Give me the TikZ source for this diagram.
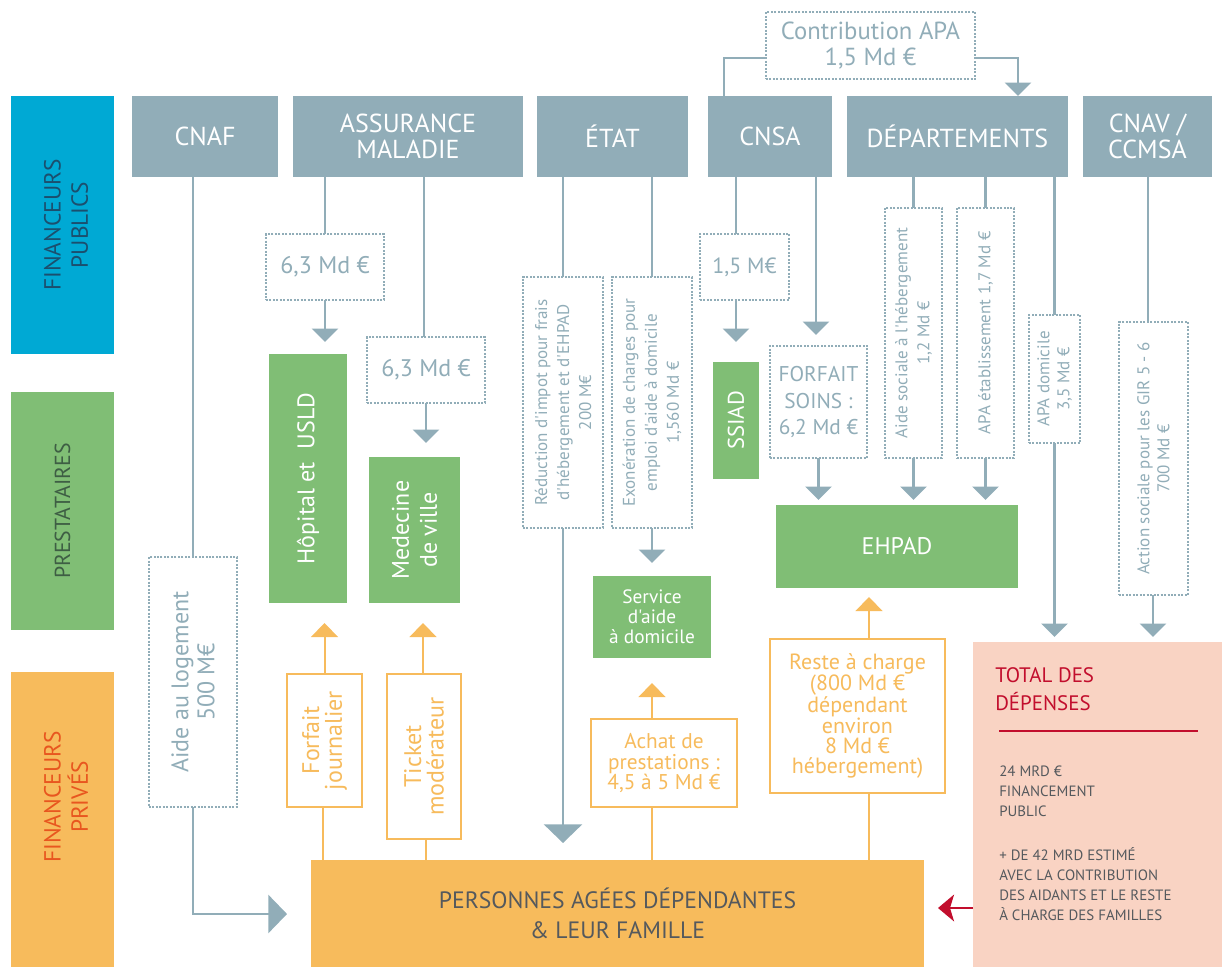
\documentclass[tikz,border=0pt]{standalone}
\usepackage{fontspec}
\setmainfont{PT Sans}[Ligatures=TeXOff]
\usetikzlibrary{arrows.meta,fit}
\definecolor{gb}{HTML}{91ADB8}
\definecolor{bl}{HTML}{00A9D4}
\definecolor{navy}{HTML}{1B4F6E}
\definecolor{gr}{HTML}{80BE75}
\definecolor{dkgr}{HTML}{3E5E44}
\definecolor{orf}{HTML}{F7BB5C}
\definecolor{orred}{HTML}{E8561F}
\definecolor{pk}{HTML}{F9D3C3}
\definecolor{rd}{HTML}{C20E2D}
\definecolor{dk}{HTML}{55595D}
\newcommand\fsz[2]{\fontsize{#1}{#2}\selectfont}
% box: style, name, corner1, corner2, text style, text
\newcommand\bx[6]{\node[#1, fit={(#3)(#4)}] (#2) {};\node[#5] (#2t) at (#2.center) {#6};}
\tikzset{
 box/.style={inner sep=0pt, outer sep=0pt},
 txt/.style={inner sep=0pt, align=center},
 gbox/.style={box, fill=gb},
 gtxt/.style={txt, text=white, font=\fsz{19.5pt}{20pt}},
 dbox/.style={box, draw=gb, line width=1.5pt, dash pattern=on 1.5pt off 1.1pt, fill=white},
 dtxt/.style={txt, text=gb},
 grn/.style={box, fill=gr},
 wtxt/.style={txt, text=white},
 obox/.style={box, draw=orf, line width=1.5pt, fill=white},
 otxt/.style={txt, text=orf},
 rot/.style={rotate=90},
 conn/.style={draw=gb, line width=2pt},
 arr/.style={conn, -{Triangle[width=19.5pt,length=10pt]}},
 bigarr/.style={conn, -{Triangle[width=28.5pt,length=14pt]}},
 oconn/.style={draw=orf, line width=1.5pt},
 oarr/.style={oconn, -{Triangle[width=20pt,length=10.5pt]}},
 side/.style={txt, rotate=90, font=\fsz{17.5pt}{20.5pt}},
}
\begin{document}
\begin{tikzpicture}[x=0.75pt,y=-0.75pt]
\useasboundingbox (0,0) rectangle (1222,967);

% side labels
\node[box, fill=bl, fit={(11,96)(114,354)}] (lpub) {};
\node[side, text=navy] (tpub) at (66,225) {FINANCEURS\\PUBLICS};
\node[box, fill=gr, fit={(11,392)(114,630)}] (lpre) {};
\node[side, text=dkgr, font=\fsz{16.3pt}{20pt}] (tpre) at (lpre.center) {PRESTATAIRES};
\node[box, fill=orf, fit={(11,672)(114,967)}] (lpri) {};
\node[side, text=orred] (tpri) at (66,797) {FINANCEURS\\PRIVÉS};

% top financers
\bx{gbox}{cnaf}{132,96}{278,177}{gtxt}{CNAF}
\bx{gbox}{am}{293,96}{523,177}{gtxt}{ASSURANCE\\MALADIE}
\bx{gbox}{etat}{537,96}{688,177}{gtxt}{ÉTAT}
\bx{gbox}{cnsa}{708,96}{832,177}{gtxt}{CNSA}
\bx{gbox}{dep}{847,96}{1068,177}{gtxt}{DÉPARTEMENTS}
\bx{gbox}{cnav}{1083,96}{1212,177}{gtxt}{CNAV /\\CCMSA}

% contribution APA
\bx{dbox}{contrib}{766,12}{975,79}{dtxt, font=\fsz{18.5pt}{19pt}}{Contribution APA\\1,5 Md €}
\draw[conn] (724,0 |- cnsa.north) |- (contrib.west |- 0,58);
\draw[arr] (contrib.east |- 0,58) -| (1018,0 |- dep.north);

% providers
\bx{grn}{hop}{269,354}{347,603}{wtxt, rot, font=\fsz{18pt}{20pt}}{Hôpital et~ USLD}
\bx{grn}{med}{369,457}{460,603}{wtxt, rot, font=\fsz{18pt}{21pt}}{Medecine\\de ville}
\bx{grn}{ssiad}{713,362}{759,479}{wtxt, rot, font=\fsz{17pt}{20pt}}{SSIAD}
\bx{grn}{ehpad}{776,505}{1018,588}{wtxt, font=\fsz{18pt}{20pt}}{EHPAD}
\bx{grn}{sad}{593,576}{711,658}{wtxt, font=\fsz{14.5pt}{15pt}}{Service\\d'aide\\à domicile}

% Assurance maladie
\bx{dbox}{am1}{266,234}{384,300}{dtxt, font=\fsz{18pt}{20pt}}{6,3 Md €}
\bx{dbox}{am2}{367,337}{485,403}{dtxt, font=\fsz{18pt}{20pt}}{6,3 Md €}
\draw[conn] (325,0 |- am.south) -- (325,0 |- am1.north);
\draw[arr, shorten >=9pt] (am1.south) -- (am1.south |- hop.north);
\draw[conn] (424,0 |- am.south) -- (424,0 |- am2.north);
\draw[arr, shorten >=10.5pt] (am2.south) -- (am2.south |- med.north);

% CNAF
\bx{dbox}{log}{149,557}{237,807}{dtxt, rot, font=\fsz{18pt}{19.5pt}}{Aide au logement\\500 M€}
\draw[conn] (log.north |- cnaf.south) -- (log.north);

% private
\bx{box, fill=orf}{pers}{311,860}{924,967}{txt, text=dk, font=\fsz{17.75pt}{22.5pt}}{PERSONNES AGÉES DÉPENDANTES\\\& LEUR FAMILLE}
\draw[bigarr, shorten >=18pt] (log.south) |- (pers.west |- 0,914);

% Etat
\bx{dbox}{red}{523,277}{603,528}{dtxt, rot, font=\fsz{12.75pt}{16.5pt}}{Réduction d'impot pour frais\\d'hébergement et d'EHPAD\\200 M€}
\bx{dbox}{exo}{612,277}{692,528}{dtxt, rot, font=\fsz{12.75pt}{16.5pt}}{Exonération de charges pour\\emploi d'aide à domicile\\1,560 Md €}
\draw[conn] (red.north |- etat.south) -- (red.north);
\draw[conn] (exo.north |- etat.south) -- (exo.north);
\draw[bigarr, shorten >=12.75pt] (red.south) -- (red.south |- pers.north);
\draw[arr, shorten >=9.75pt] (exo.south) -- (exo.south |- sad.north);

% CNSA
\bx{dbox}{cn1}{700,234}{789,300}{dtxt, font=\fsz{16.5pt}{20pt}}{1,5 M€}
\draw[conn] (736,0 |- cnsa.south) -- (736,0 |- cn1.north);
\draw[arr, shorten >=15pt] (736,0 |- cn1.south) -- (736,0 |- ssiad.north);
\bx{dbox}{forf}{770,346}{867,458}{dtxt, font=\fsz{16pt}{20pt}}{FORFAIT\\SOINS :\\6,2 Md €}
\draw[arr, shorten >=8.25pt] (816,0 |- cnsa.south) -- (816,0 |- forf.north);
\draw[arr, shorten >=3.75pt] (forf.south) -- (forf.south |- ehpad.north);

% Departements
\bx{dbox}{asoc}{885,208}{942,458}{dtxt, rot, font=\fsz{12.75pt}{16.5pt}}{Aide sociale à l'hébergement\\1,2 Md €}
\bx{dbox}{apae}{957,208}{1014,458}{dtxt, rot, font=\fsz{12.75pt}{16.5pt}}{APA établissement 1,7 Md €}
\bx{dbox}{apad}{1029,315}{1080,443}{dtxt, rot, font=\fsz{12.75pt}{15pt}}{APA domicile\\3,5 Md €}
\draw[conn] (asoc.north |- dep.south) -- (asoc.north);
\draw[conn] (apae.north |- dep.south) -- (apae.north);
\draw[conn] (apad.north |- dep.south) -- (apad.north);
\draw[arr, shorten >=3.75pt] (asoc.south) -- (asoc.south |- ehpad.north);
\draw[arr, shorten >=3.75pt] (apae.south) -- (apae.south |- ehpad.north);

% CNAV
\bx{dbox}{acs}{1119,322}{1188,595}{dtxt, rot, font=\fsz{12.75pt}{15pt}}{Action sociale pour les GIR 5 - 6\\700 Md €}
\draw[conn] (1148,0 |- cnav.south) -- (1148,0 |- acs.north);

% total
\node[box, fill=pk, fit={(973,642)(1222,967)}] (total) {};
\draw[arr, shorten >=3.75pt] (apad.south) -- (apad.south |- total.north);
\draw[arr, shorten >=3.75pt] (1153,0 |- acs.south) -- (1153,0 |- total.north);
\node[anchor=north west, inner sep=0pt, align=left, text=rd, font=\fsz{15.7pt}{21pt}] (ttl) at (995,667) {TOTAL DES\\DÉPENSES};
\coordinate (ul1) at (999,731);
\coordinate (ul2) at (1198,731);
\draw[rd, line width=1.5pt] (ul1) -- (ul2);
\node[anchor=north west, inner sep=0pt, align=left, text=dk, font=\fsz{11.2pt}{15pt}] (b1) at (999,766) {24 MRD €\\FINANCEMENT\\PUBLIC};
\node[anchor=north west, inner sep=0pt, align=left, text=dk, font=\fsz{11.2pt}{15pt}] (b2) at (999,847) {+ DE 42 MRD ESTIMÉ\\AVEC LA CONTRIBUTION\\DES AIDANTS ET LE RESTE\\À CHARGE DES FAMILLES};
\draw[draw=rd, line width=2pt, -{Stealth[width=20pt,length=12pt,inset=3pt]}, shorten >=10.5pt] (total.west |- 0,908) -- (pers.east |- 0,908);

% private payments
\bx{obox}{fj}{287,674}{362,807}{otxt, rot, font=\fsz{18pt}{17pt}}{Forfait\\journalier}
\bx{obox}{tm}{387,674}{461,839}{otxt, rot, font=\fsz{18pt}{17pt}}{Ticket\\modérateur}
\bx{obox}{ach}{591,719}{737,807}{otxt, font=\fsz{16pt}{15.2pt}}{Achat de\\prestations :\\4,5 à 5 Md €}
\bx{obox}{rac}{770,639}{945,793}{otxt, font=\fsz{16.5pt}{15.2pt}}{Reste à charge\\(800 Md €\\dépendant\\environ\\8 Md €\\hébergement)}

\draw[oconn] (323,0 |- pers.north) -- (323,0 |- fj.south);
\draw[oarr, shorten >=15pt] (fj.north) -- (fj.north |- hop.south);
\draw[oconn] (426,0 |- pers.north) -- (426,0 |- tm.south);
\draw[oarr, shorten >=15pt] (423,0 |- tm.north) -- (423,0 |- med.south);
\draw[oconn] (652,0 |- pers.north) -- (652,0 |- ach.south);
\draw[oarr, shorten >=18.75pt] (652,0 |- ach.north) -- (652,0 |- sad.south);
\draw[oconn] (869,0 |- pers.north) -- (869,0 |- rac.south);
\draw[oarr, shorten >=6.75pt] (869,0 |- rac.north) -- (869,0 |- ehpad.south);
\end{tikzpicture}
\end{document}
